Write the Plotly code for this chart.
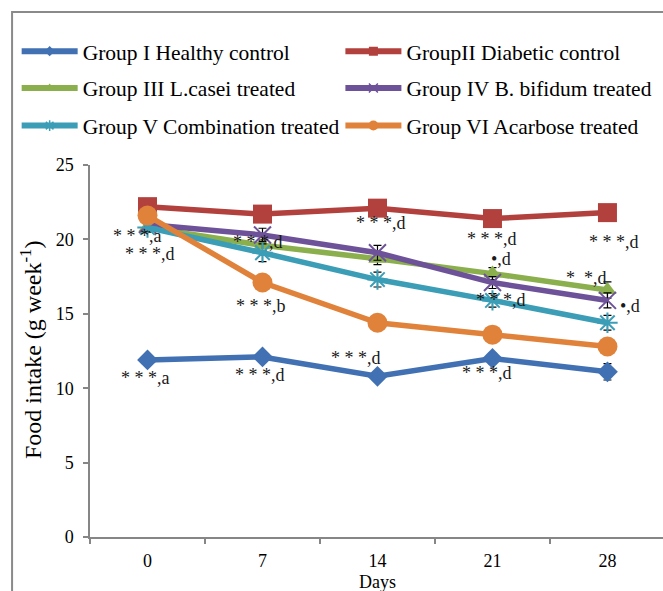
import plotly.graph_objects as go

# Sampling days (category labels on the x axis)
days = ["0", "7", "14", "21", "28"]

# Mean weekly food intake per group (g week-1)
group_1 = [11.9, 12.1, 10.8, 12.0, 11.1]
group_2 = [22.2, 21.7, 22.1, 21.4, 21.8]
group_3 = [20.8, 19.6, 18.7, 17.7, 16.6]
group_4 = [21.0, 20.3, 19.1, 17.1, 15.9]
group_5 = [20.8, 19.1, 17.3, 15.9, 14.4]
group_6 = [21.6, 17.1, 14.4, 13.6, 12.8]

# Standard errors
err_1 = [0.3, 0.3, 0.3, 0.35, 0.55]
err_2 = [0.3, 0.3, 0.3, 0.3, 0.3]
err_3 = [0.3, 0.35, 0.4, 0.4, 0.55]
err_4 = [0.3, 0.45, 0.5, 0.4, 0.5]
err_5 = [0.3, 0.6, 0.5, 0.45, 0.5]
err_6 = [0.3, 0.3, 0.3, 0.3, 0.3]

names = [
    "Group I Healthy control",
    "GroupII Diabetic control",
    "Group III L.casei treated",
    "Group IV B. bifidum treated",
    "Group V Combination treated",
    "Group VI Acarbose treated",
]

# Significance labels: (category position, value position, text)
sig_x = [-0.09, 0.02, 0.96, 0.99, -0.02, 0.98, 2.03, 3.0, 3.07, 4.06, 3.82, 3.07, 4.2, 1.81, 2.95]
sig_y = [20.2, 19.0, 19.85, 15.5, 10.7, 10.9, 21.1, 20.05, 18.65, 19.8, 17.4, 15.9, 15.5, 12.05, 11.05]
sig_text = ["* * *,a", "* * *,d", "* * *,d", "* * *,b", "* * *,a", "* * *,d", "* * *,d",
            "* * *,d", "•,d", "* * *,d", "*  *,d", "* * *,d", "•,d", "* * *,d", "* * *,d"]

series = [group_1, group_2, group_3, group_4, group_5, group_6]
errors = [err_1, err_2, err_3, err_4, err_5, err_6]
colors = ["#4171B3", "#B2403C", "#8BAF4C", "#6E5299", "#3B9DB6", "#E0823A"]
symbols = ["diamond", "square", "triangle-up", "x-thin-open", "asterisk-open", "circle"]
sizes = [16, 19, 16, 17, 17, 20]
legend_sizes = [8, 9, 9, 9, 9, 10]

# Two-column legend: one legend box per entry
legend_ids = ["legend", "legend2", "legend3", "legend4", "legend5", "legend6"]
legend_x = [-0.128, 0.437, -0.128, 0.437, -0.128, 0.437]
legend_y = [1.306, 1.306, 1.207, 1.207, 1.106, 1.106]

xpos = list(range(len(days)))
FONT = "Liberation Serif"

fig = go.Figure()

for vals, err, name, col, sym, sz in zip(series, errors, names, colors, symbols, sizes):
    open_sym = sym.endswith("open")
    fig.add_trace(go.Scatter(
        x=xpos, y=vals, name=name, mode="lines+markers", showlegend=False,
        line=dict(color=col, width=5.5),
        marker=dict(symbol=sym, size=sz, color=col,
                    line=dict(color=col, width=2 if open_sym else 0)),
        error_y=dict(type="data", array=err, visible=True, color="black",
                     thickness=1.2, width=4),
    ))

# Legend entries with the smaller legend markers
for name, col, sym, lsz, lg in zip(names, colors, symbols, legend_sizes, legend_ids):
    open_sym = sym.endswith("open")
    fig.add_trace(go.Scatter(
        x=[None], y=[None], name=name, mode="lines+markers", legend=lg,
        line=dict(color=col, width=6),
        marker=dict(symbol=sym, size=lsz, color=col,
                    line=dict(color=col, width=1.5 if open_sym else 0)),
    ))

for sx, sy, st in zip(sig_x, sig_y, sig_text):
    fig.add_annotation(x=sx, y=sy, text=st, showarrow=False,
                       font=dict(family=FONT, size=18, color="#1a1a1a"),
                       xanchor="center", yanchor="middle")

# Axis titles
fig.add_annotation(x=-0.103, y=0.505, xref="paper", yref="paper", showarrow=False,
                   xanchor="center", yanchor="middle",
                   text="Food intake (g week<sup>-1</sup>)", textangle=-90,
                   font=dict(family=FONT, size=24, color="black"))
fig.add_annotation(x=0.502, y=-0.12, xref="paper", yref="paper", showarrow=False,
                   xanchor="center", yanchor="middle",
                   text="Days", font=dict(family=FONT, size=18, color="black"))

# Outer chart border (top and left edges)
fig.add_shape(type="path", xref="paper", yref="paper",
              path="M -0.136,-0.2 L -0.136,1.411 L 1.05,1.411",
              line=dict(color="#8a8a8a", width=2))

legend_common = dict(orientation="h", xanchor="left", yanchor="middle",
                     font=dict(family=FONT, size=21.5, color="black"),
                     itemwidth=56, bgcolor="rgba(0,0,0,0)", itemclick=False)

layout_legends = {lg: dict(x=lx, y=ly, **legend_common)
                  for lg, lx, ly in zip(legend_ids, legend_x, legend_y)}

fig.update_layout(
    width=663, height=591,
    margin=dict(l=90, r=0, t=165, b=54),
    paper_bgcolor="white", plot_bgcolor="white",
    font=dict(family=FONT, size=18, color="black"),
    showlegend=True,
    xaxis=dict(range=[-0.5, 4.483], tickvals=xpos, ticktext=days, ticks="",
               showline=True, linecolor="#868686", linewidth=1.5,
               showgrid=False, zeroline=False, ticklabelstandoff=7,
               tickfont=dict(family=FONT, size=18),
               minor=dict(tick0=-0.5, dtick=1, ticks="outside", ticklen=5,
                          tickcolor="#868686", tickwidth=1.5, showgrid=False)),
    yaxis=dict(range=[0, 25], dtick=5, ticks="outside", ticklen=5,
               tickcolor="#868686", tickwidth=1.5,
               showline=True, linecolor="#868686", linewidth=1.5,
               showgrid=False, zeroline=False, ticklabelstandoff=6,
               tickfont=dict(family=FONT, size=18)),
    **layout_legends,
)

fig.write_html("out.html")
